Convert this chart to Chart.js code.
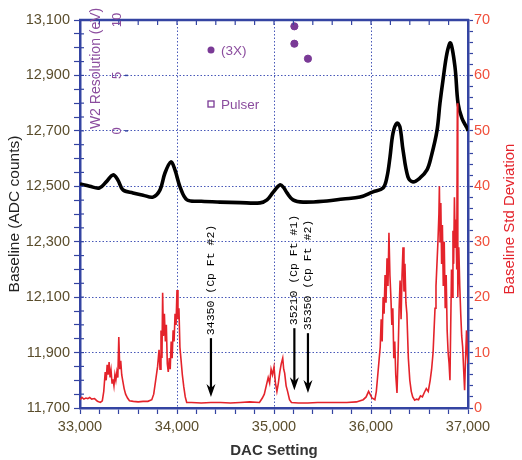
<!DOCTYPE html>
<html><head><meta charset="utf-8">
<script src="https://cdn.jsdelivr.net/npm/chart.js@4/dist/chart.umd.min.js"></script>
<style>html,body{margin:0;padding:0;background:#fff;}#wrap{width:522px;height:460px;}</style>
</head><body><div id="wrap"><canvas id="c" width="522" height="460"></canvas></div>
<script>
// ---- data ----
const baselineDac = [33000,33100,33200,33270,33340,33390,33443,33546,33650,33752,33825,33876,33938,33979,34031,34103,34250,34443,34650,34856,34928,34990,35062,35100,35134,35196,35300,35546,35711,35887,36021,36124,36165,36196,36227,36268,36298,36330,36381,36433,36505,36577,36620,36680,36711,36742,36784,36820,36866,36897,36938,36990,37000];
const baselineVals = [12508,12500,12494,12516,12541,12523,12487,12476,12468,12461,12487,12548,12588,12559,12498,12451,12446,12443,12441,12440,12451,12478,12505,12495,12476,12451,12443,12447,12454,12461,12480,12494,12534,12606,12692,12728,12714,12631,12534,12516,12530,12559,12606,12700,12800,12883,12981,13017,12930,12800,12745,12710,12700];

const stdDac = [33000,33020,33040,33060,33080,33100,33120,33150,33180,33210,33230,
 33245,33260,33270,33280,33290,33300,33310,33320,33330,33340,33350,33360,33370,33380,33390,33400,33410,33420,33430,33440,33455,33470,33490,33510,
 33550,33600,33650,33700,33740,
 33760,33780,33800,33815,33825,33835,33845,33852,33860,33870,33880,33890,33900,33910,33920,33930,33940,33950,33960,33970,33980,33990,34000,34010,34020,34030,34040,34055,34070,34085,34100,
 34150,34250,34350,34450,34550,34650,34750,34850,
 34880,34900,34920,34940,34955,34970,34985,35000,35015,35030,35045,35060,35075,35090,35100,35110,35125,35140,35160,35180,
 35250,35350,35450,35550,35650,35750,35850,35920,
 35950,35975,35990,36010,36040,
 36055,36070,36085,36095,36105,36115,36125,36135,36145,36155,36165,36175,36185,36195,36205,36215,36225,36235,36245,36255,36268,36280,36290,36300,36310,36320,36330,36340,36350,36360,36370,36385,36400,36415,36430,36450,36470,36490,36510,36530,36550,36570,36590,36610,36625,36640,36650,36660,36670,36680,36690,36700,36705,36712,36720,36728,36736,36745,36755,36765,36775,36785,36795,36805,36814,36822,36830,36838,36845,36852,36860,36868,36876,36884,36890,36895,36905,36915,36925,36935,36945,36955,36965,36975,36985,36992,37000];
const stdVals = [1.5,1.9,1.6,1.8,1.7,1.9,1.6,1.7,1.2,1.0,1.3,
 3,6.5,5,7.8,6,8.3,5.5,6.8,4.5,5.2,4,6,5,6.5,5.5,12.8,7,8.5,6,5,3.5,2.5,1.8,1.3,
 1.2,1.1,1.2,1.2,1.5,
 2.5,5,7.5,10.5,7,14,9,20.8,13,17,12,15,8,6.5,9,7,12,9,14,12,17,15,21.3,16,18,11,9,6,3.8,2,1,
 1.0,0.9,1.0,1.0,0.9,1.0,1.1,1.0,
 1.8,2.5,4,5.5,4.5,7,6,7.4,4.5,3,4.5,6.5,8,9,7,6.3,4,3,1.5,1.0,
 0.9,0.9,1.0,1.0,1.0,1.0,1.1,1.5,
 2,3,2.5,1.8,1.5,
 3,6,9,11,16,12,20,17,24,19,27,22,31.6,24,20,15,18,9,12,6,2.7,10,18,23,16,24,29,21,26,19,17,9,5,3,2,1.4,1.6,1.5,2.2,2,2.8,3.5,3,5,7,10,14,18,22,26,30,35,40,30,37,26,33,22,30,18,24,14,10,8,5,15,25,20,32,26,38,29,34,25,55,20,29,22,17,13,11,7,3.2,9,14,10,8];

const w2Dac = [35210, 35210, 35350];
const w2Vals = [9.43, 7.86, 6.51];
const pulserDac = [];
const pulserVals = [];

const annotDac = [34350, 35210, 35350];
const annotText = ['34350 (Cp Ft #2)', '35210 (Cp Ft #1)', '35350 (Cp Ft #2)'];
const annotTop = [12.6, 14.4, 13.5];
const annotTip = [2.0, 3.2, 2.7];

const w2TickVals = [0, 5, 10];

// ---- styles ----
const BLUE = '#3444a2';
const GRID = '#4858b8';
const TICKTXT = '#5a4d2c';
const PURPLE = '#8b4c9e';
const PT = '#7a3a96';
const RED = '#e4232b';
const FONT = '"Liberation Sans", Arial, sans-serif';

const toXY = (xs, ys) => xs.map((x, i) => ({x: x, y: ys[i]}));

const extras = {
  id: 'extras',
  afterDraw(chart) {
    const ctx = chart.ctx;
    const a = chart.chartArea;
    const xs = chart.scales.x, yR = chart.scales.yR, w2 = chart.scales.w2;
    ctx.save();
    // top border and inward ticks
    ctx.strokeStyle = BLUE; ctx.lineWidth = 2.5;
    ctx.beginPath(); ctx.moveTo(a.left - 1, a.top); ctx.lineTo(a.right + 1, a.top); ctx.stroke();
    ctx.lineWidth = 1.2;
    xs.ticks.forEach(t => {
      const px = xs.getPixelForValue(t.value);
      ctx.beginPath(); ctx.moveTo(px, a.top); ctx.lineTo(px, a.top + 5); ctx.stroke();
    });
    // inward minor ticks on left axis
    chart.scales.y.ticks.forEach(t => {
      const py = chart.scales.y.getPixelForValue(t.value);
      ctx.beginPath(); ctx.moveTo(a.left, py); ctx.lineTo(a.left + 4, py); ctx.stroke();
    });

    // annotations: arrows + rotated labels
    ctx.fillStyle = '#000'; ctx.strokeStyle = '#000';
    ctx.font = '11.5px "Liberation Mono", "DejaVu Sans Mono", monospace';
    annotDac.forEach((d, i) => {
      const x = xs.getPixelForValue(d);
      const y1 = yR.getPixelForValue(annotTop[i]);
      const y2 = yR.getPixelForValue(annotTip[i]);
      ctx.lineWidth = 2.2;
      ctx.beginPath(); ctx.moveTo(x, y1); ctx.lineTo(x, y2 - 6); ctx.stroke();
      ctx.beginPath(); ctx.moveTo(x, y2); ctx.lineTo(x - 4.5, y2 - 13); ctx.lineTo(x, y2 - 9); ctx.lineTo(x + 4.5, y2 - 13); ctx.closePath(); ctx.fill();
      ctx.save();
      ctx.translate(x, y1 - 3); ctx.rotate(-Math.PI / 2);
      ctx.textAlign = 'left'; ctx.textBaseline = 'middle';
      ctx.fillText(annotText[i], 0, 0);
      ctx.restore();
    });

    // W2 inner axis: title + tick labels
    ctx.fillStyle = PURPLE;
    const y10 = w2.getPixelForValue(10), y0 = w2.getPixelForValue(0);
    ctx.save();
    ctx.translate(a.left + 16, (y10 + y0) / 2 - 7); ctx.rotate(-Math.PI / 2);
    ctx.font = '14px ' + FONT; ctx.textAlign = 'center'; ctx.textBaseline = 'middle';
    ctx.fillText('W2 Resolution (eV)', 0, 0);
    ctx.restore();
    w2TickVals.forEach(v => {
      const py = w2.getPixelForValue(v);
      ctx.save();
      ctx.translate(a.left + 37, py); ctx.rotate(-Math.PI / 2);
      ctx.font = '13px ' + FONT; ctx.textAlign = 'center'; ctx.textBaseline = 'middle';
      ctx.fillText(String(v), 0, 0);
      ctx.restore();
      ctx.strokeStyle = BLUE; ctx.lineWidth = 1.5;
      ctx.beginPath(); ctx.moveTo(a.left + 45, py); ctx.lineTo(a.left + 48, py); ctx.stroke();
    });

    // legend inside plot
    const lx = a.left + 131;
    const ly1 = a.top + 30, ly2 = a.top + 84;
    ctx.fillStyle = PT;
    ctx.beginPath(); ctx.arc(lx, ly1, 3.5, 0, Math.PI * 2); ctx.fill();
    ctx.strokeStyle = PT; ctx.lineWidth = 1.3;
    ctx.strokeRect(lx - 3, ly2 - 3, 6, 6);
    ctx.fillStyle = PURPLE; ctx.font = '13.5px ' + FONT; ctx.textAlign = 'left'; ctx.textBaseline = 'middle';
    ctx.fillText('(3X)', lx + 10, ly1 + 1);
    ctx.fillText('Pulser', lx + 10, ly2 + 1);

    // right title (reads bottom-to-top)
    ctx.save();
    ctx.translate(510, (a.top + a.bottom) / 2 + 5); ctx.rotate(-Math.PI / 2);
    ctx.fillStyle = RED; ctx.font = '15px ' + FONT; ctx.textAlign = 'center'; ctx.textBaseline = 'middle';
    ctx.fillText('Baseline Std Deviation', 0, 0);
    ctx.restore();
    ctx.restore();
  }
};

new Chart(document.getElementById('c'), {
  type: 'scatter',
  data: {
    datasets: [
      {label: 'Baseline', data: toXY(baselineDac, baselineVals), yAxisID: 'y', showLine: true,
       borderColor: '#000', borderWidth: 3.6, pointRadius: 0, tension: 0.35, order: 2},
      {label: 'Baseline Std Deviation', data: toXY(stdDac, stdVals), yAxisID: 'yR', showLine: true,
       borderColor: RED, borderWidth: 1.6, pointRadius: 0, tension: 0, order: 1},
      {label: '(3X)', data: toXY(w2Dac, w2Vals), yAxisID: 'w2', showLine: false,
       pointRadius: 3.6, pointBackgroundColor: PT, pointBorderColor: PT, order: 0},
      {label: 'Pulser', data: toXY(pulserDac, pulserVals), yAxisID: 'w2', showLine: false,
       pointStyle: 'rect', pointRadius: 3.5, pointBackgroundColor: '#fff', pointBorderColor: PT, order: 0}
    ]
  },
  options: {
    responsive: false, animation: false, devicePixelRatio: 1,
    layout: {padding: {top: 20, left: 0, right: 0, bottom: 0}},
    plugins: {legend: {display: false}, tooltip: {enabled: false}},
    scales: {
      x: {
        type: 'linear', position: 'bottom', min: 33000, max: 37000,
        ticks: {stepSize: 200, autoSkip: false, maxRotation: 0, padding: 4, color: TICKTXT,
          font: {family: FONT, size: 14.5},
          callback: v => (v % 1000 === 0 ? v.toLocaleString('en-US') : '')},
        grid: {color: c => (c.tick && c.tick.value % 1000 === 0 ? GRID : 'rgba(0,0,0,0)'),
          lineWidth: 1, tickColor: BLUE, tickLength: 6, tickWidth: 1.2},
        border: {color: BLUE, width: 2.5, dash: [1.5, 2]},
        title: {display: true, text: 'DAC Setting', color: '#333', font: {family: FONT, size: 15, weight: 'bold'}, padding: {top: 0, bottom: 0}},
        afterFit: s => { s.height = 52; }
      },
      y: {
        position: 'left', min: 11700, max: 13100,
        ticks: {stepSize: 50, autoSkip: false, padding: 4, color: TICKTXT, font: {family: FONT, size: 14.5},
          callback: v => ((v - 11700) % 200 === 0 ? v.toLocaleString('en-US') : '')},
        grid: {color: c => (c.tick && (c.tick.value - 11700) % 200 === 0 ? GRID : 'rgba(0,0,0,0)'),
          lineWidth: 1, tickColor: BLUE, tickLength: 6, tickWidth: 1.2},
        border: {color: BLUE, width: 2.5, dash: [1.5, 2]},
        title: {display: true, text: 'Baseline (ADC counts)', color: '#222', font: {family: FONT, size: 15.5}, padding: {top: 5, bottom: 0}},
        afterFit: s => { s.width = 80; }
      },
      yR: {
        position: 'right', min: 0, max: 70,
        ticks: {stepSize: 2, autoSkip: false, padding: 1, color: '#f0503c', font: {family: FONT, size: 14.5},
          callback: v => (v % 10 === 0 ? String(v) : '')},
        grid: {drawOnChartArea: false, tickColor: BLUE, tickLength: 5, tickWidth: 1.2},
        border: {color: BLUE, width: 2.5},
        afterFit: s => { s.width = 54; }
      },
      w2: {display: false, min: -25, max: 10}
    }
  },
  plugins: [extras]
});
</script></body></html>
